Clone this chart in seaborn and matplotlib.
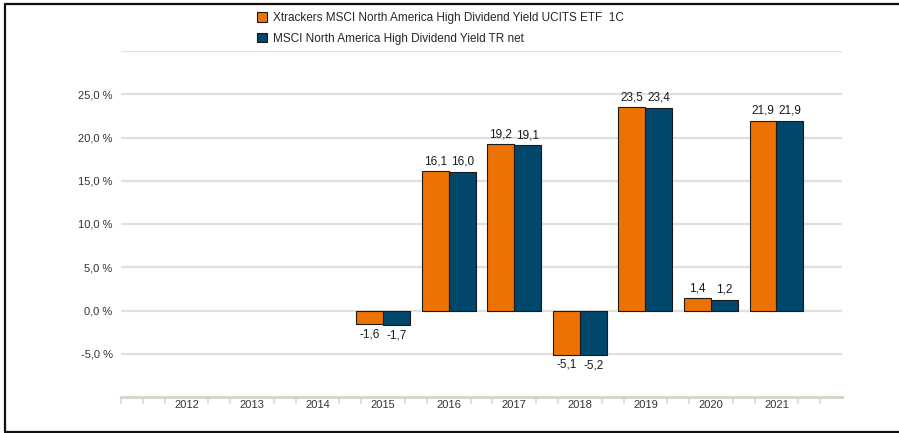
import matplotlib
matplotlib.use("Agg")
import matplotlib.pyplot as plt
import numpy as np
import pandas as pd
import seaborn as sns
from matplotlib.lines import Line2D
from matplotlib.patches import Patch

# Jahresrenditen in %, 2012-2014 ohne Werte
YEARS = ["2012", "2013", "2014", "2015", "2016", "2017", "2018", "2019", "2020", "2021"]
ETF = [np.nan, np.nan, np.nan, -1.6, 16.1, 19.2, -5.1, 23.5, 1.4, 21.9]
INDEX = [np.nan, np.nan, np.nan, -1.7, 16.0, 19.1, -5.2, 23.4, 1.2, 21.9]
SERIES = ["Xtrackers MSCI North America High Dividend Yield UCITS ETF  1C",
          "MSCI North America High Dividend Yield TR net"]
COLORS = ["#EE7203", "#00476B"]
Y_TICKS = [-5, 0, 5, 10, 15, 20, 25]

sns.set_theme(style="white")
plt.rcParams["font.family"] = ["Liberation Sans", "DejaVu Sans"]

df = pd.DataFrame({
    "Jahr": YEARS * 2,
    "Rendite": ETF + INDEX,
    "Reihe": [SERIES[0]] * len(YEARS) + [SERIES[1]] * len(YEARS),
})

fig = plt.figure(figsize=(8.99, 4.33), dpi=100)
ax = fig.add_axes([121 / 899, 1 - 397 / 433, 721 / 899, 346 / 433])

sns.barplot(data=df, x="Jahr", y="Rendite", hue="Reihe", order=YEARS,
            hue_order=SERIES, palette=COLORS, width=0.82, saturation=1,
            edgecolor="#1a1a1a", linewidth=0.8, errorbar=None, legend=False, ax=ax)

ax.set_xlim(-1, len(YEARS))
ax.set_ylim(-10, 30)

# Gitterlinien
for y in range(-5, 31, 5):
    ax.axhline(y, color="#E2E0DA", lw=1.6, zorder=0)

ax.set_yticks(Y_TICKS)
ax.set_yticklabels([f"{v:.1f} %".replace(".", ",") for v in Y_TICKS],
                   fontsize=8, color="#333333")
ax.tick_params(axis="y", length=0, pad=6)
ax.tick_params(axis="x", length=0, pad=2.5, labelsize=8, labelcolor="#333333")
ax.set_xlabel("")
ax.set_ylabel("")
for side in ["top", "right", "left"]:
    ax.spines[side].set_visible(False)
ax.spines["bottom"].set_color("#D8D5CD")
ax.spines["bottom"].set_linewidth(2.2)

# kleine Teilstriche an der x-Achse (Drittel, ohne Kategoriemitte)
ticks_x = [-1 + k / 3 for k in range(3 * (len(YEARS) + 1) + 1) if (k % 3) != 0 or k == 0]
for tx in ticks_x:
    ax.plot([tx, tx], [-10, -10.7], color="#D8D5CD", lw=1.2, clip_on=False)

# Wertbeschriftungen
for cont in ax.containers:
    labels = ["" if np.isnan(v) else f"{v:.1f}".replace(".", ",") for v in cont.datavalues]
    ax.bar_label(cont, labels=labels, padding=3, fontsize=8.5, color="#1a1a1a")

handles = [Patch(facecolor=c, edgecolor="#1a1a1a", linewidth=0.8) for c in COLORS]
fig.legend(handles, SERIES, loc="upper left", bbox_to_anchor=(252 / 899, 1 - 7 / 433),
           frameon=False, fontsize=8.5, handlelength=0.9, handleheight=0.9,
           handletextpad=0.5, labelspacing=0.75, borderaxespad=0)

# Rahmen um die Grafik
for xs, ys in [([5, 905], [4, 4]), ([5, 5], [4, 432]), ([5, 905], [432, 432])]:
    fig.add_artist(Line2D([x / 899 for x in xs], [1 - y / 433 for y in ys],
                          color="#111111", lw=1.6))

fig.savefig("out.png", dpi=100)
